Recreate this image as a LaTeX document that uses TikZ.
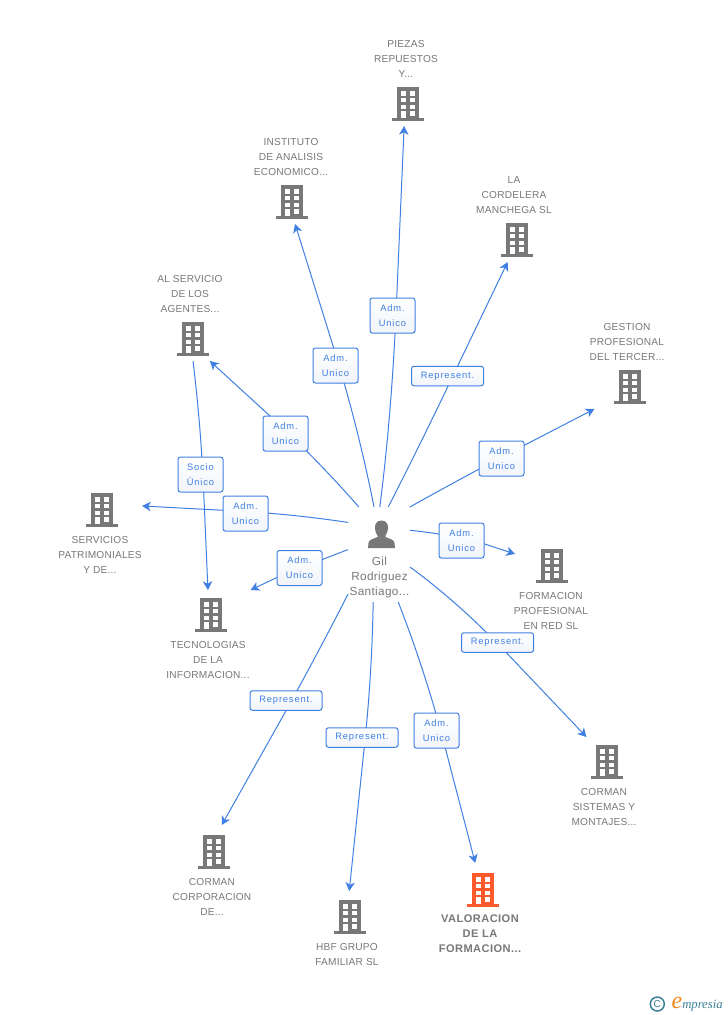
\documentclass[tikz,border=0pt]{standalone}
\usepackage{fontspec}
\setmainfont{Liberation Sans}
\newfontfamily\entfont[LetterSpace=2]{Liberation Sans}
\newfontfamily\hubfont[LetterSpace=3]{Liberation Sans}
\newfontfamily\boldentfont[LetterSpace=4]{Liberation Sans Bold}
\newfontfamily\tagfont[LetterSpace=9]{Liberation Sans}
\newfontfamily\logofont{Liberation Serif Italic}
\usetikzlibrary{arrows.meta,calc,backgrounds}
\definecolor{linkblue}{HTML}{3F80E2}
\definecolor{textgrey}{HTML}{787878}
\definecolor{iconOrange}{HTML}{FF5A2B}
\definecolor{logoteal}{HTML}{3A7F96}
\definecolor{logoorange}{HTML}{F08A24}
\definecolor{tagfade}{HTML}{F1F4F9}
\tikzset{
  bldg/.pic={
    \fill[pic actions] (-11,-17) rectangle (11,14);
    \fill[pic actions] (-16,14) rectangle (16,17);
    \foreach \ya/\yb in {-13/-8.5,-6/-2,0.7/5}{
      \fill[white] (-7,\ya) rectangle (-2,\yb);
      \fill[white] (2.3,\ya) rectangle (7.3,\yb);
    }
    \fill[white] (-7,7) rectangle (-2,14);
    \fill[white] (2.3,7) rectangle (7.3,11.5);
  },
  hubbox/.style={minimum width=62*0.75pt,minimum height=95*0.75pt,inner sep=0pt,outer sep=0pt},
  entbox/.style={minimum width=80*0.75pt,minimum height=88*0.75pt,inner sep=0pt,outer sep=0pt},
  enttext/.style={text=textgrey,align=center,inner sep=0pt,font=\fontsize{7.6pt}{11.25pt}\entfont},
  tagbox/.style={draw=linkblue,top color=white,bottom color=tagfade,line width=0.75pt,rounded corners=1.8pt,inner sep=0pt,
    text=linkblue,align=center,font=\fontsize{7pt}{11.25pt}\tagfont},
  adm/.style={tagbox,minimum width=45*0.75pt,minimum height=35*0.75pt},
  rep/.style={tagbox,minimum width=72*0.75pt,minimum height=19.5*0.75pt},
  link/.style={draw=linkblue,line width=0.75pt,-{Stealth[length=6.5pt,width=7pt,inset=1.8pt]}}
}
% #1 start, #2 bend coordinate, #3 point behind the tag, #4 end
\newcommand{\linkvia}[4]{%
  \draw[link] (#1) .. controls ($(#1)!.667!(#2)$) and ($(#3)!.667!(#2)$) .. (#3) -- (#4);}
\begin{document}
\begin{tikzpicture}[x=0.75pt,y=-0.75pt]
\begin{pgfonlayer}{background}
\path[use as bounding box,fill=white] (0,0) rectangle (728,1015);
\end{pgfonlayer}

% invisible boxes holding icon + caption (connector end points)
\node[hubbox] (hub) at (379,554.5) {};
\node[entbox] (piezas) at (408,82) {};
\node[entbox] (instituto) at (292,180) {};
\node[entbox] (cordelera) at (517,218) {};
\node[entbox] (alservicio) at (193,317) {};
\node[entbox] (gestion) at (630,365) {};
\node[entbox] (servicios) at (102,530) {};
\node[entbox] (tecnologias) at (211,634) {};
\node[entbox,minimum width=74*0.75pt] (formacion) at (552,585) {};
\node[entbox] (sistemas) at (607,781) {};
\node[entbox] (corp) at (214,869) {};
\node[entbox] (hbf) at (350,935) {};
\node[entbox] (valoracion) at (483,907) {};

% tags
\node[adm] (t1) at (392.5,315.5) {Adm.\\Unico};
\node[adm] (t2) at (335.5,365.5) {Adm.\\Unico};
\node[rep] (t3) at (447.5,376) {Represent.};
\node[adm] (t4) at (501.5,458.5) {Adm.\\Unico};
\node[adm] (t5) at (285.5,433.5) {Adm.\\Unico};
\node[adm] (t6) at (200.5,474.5) {Socio\\Único};
\node[adm] (t7) at (245.5,513.5) {Adm.\\Unico};
\node[adm] (t8) at (299.5,568) {Adm.\\Unico};
\node[adm] (t9) at (461.5,540.5) {Adm.\\Unico};
\node[rep] (t10) at (497.5,642.5) {Represent.};
\node[adm] (t11) at (436.5,730.5) {Adm.\\Unico};
\node[rep] (t12) at (362,737.5) {Represent.};
\node[rep] (t13) at (286,700.5) {Represent.};

% bend coordinates and points behind the tags
\coordinate (v1) at (392,412);   \coordinate (f1) at (396.7,298.3);
\coordinate (v2) at (358,426);   \coordinate (f2) at (333.3,346.7);
\coordinate (v3) at (424,437);   \coordinate (f3) at (457.3,366.7);
\coordinate (v4) at (467,475);   \coordinate (f4) at (524.3,445.3);
\coordinate (v5) at (315,457);   \coordinate (f5) at (270,416);
\coordinate (v6) at (201,427);   \coordinate (f6) at (203.7,491.7);
\coordinate (v7) at (285,513);   \coordinate (f7) at (223.3,510.3);
\coordinate (v8) at (313,563);   \coordinate (f8) at (277.3,577.3);
\coordinate (v9) at (448,534);   \coordinate (f9) at (484.7,544);
\coordinate (v10) at (458,602);  \coordinate (f10) at (506,652.3);
\coordinate (v11) at (426,673);  \coordinate (f11) at (445.3,748);
\coordinate (v12) at (372,675);  \coordinate (f12) at (364.3,746.7);
\coordinate (v13) at (318,653);  \coordinate (f13) at (286,710.7);

% connectors, behind the tags
\begin{pgfonlayer}{background}
\linkvia{hub.89}{v1}{f1}{piezas.265}
\linkvia{hub.96}{v2}{f2}{instituto.274}
\linkvia{hub.79}{v3}{f3}{cordelera.258}
\linkvia{hub.57}{v4}{f4}{gestion.231}
\linkvia{hub.113}{v5}{f5}{alservicio.291}
\linkvia{alservicio.270}{v6}{f6}{tecnologias.94.5}
\linkvia{hub.134}{v7}{f7}{servicios.31}
\linkvia{hub.171}{v8}{f8}{tecnologias.48}
\linkvia{hub.38}{v9}{f9}{formacion.140}
\linkvia{hub.338}{v10}{f10}{sistemas.115.5}
\linkvia{hub.292}{v11}{f11}{valoracion.100}
\linkvia{hub.263}{v12}{f12}{hbf.91}
\linkvia{hub.232}{v13}{f13}{corp.80}
\end{pgfonlayer}

% icons
\pic[fill=textgrey] at (408,104) {bldg};
\pic[fill=textgrey] at (292,202) {bldg};
\pic[fill=textgrey] at (517,240) {bldg};
\pic[fill=textgrey] at (193,339) {bldg};
\pic[fill=textgrey] at (630,387) {bldg};
\pic[fill=textgrey] at (102,510) {bldg};
\pic[fill=textgrey] at (211,615) {bldg};
\pic[fill=textgrey] at (552,566) {bldg};
\pic[fill=textgrey] at (607,762) {bldg};
\pic[fill=textgrey] at (214,852) {bldg};
\pic[fill=textgrey] at (350,917) {bldg};
\pic[fill=iconOrange] at (483,890) {bldg};

% person
\fill[textgrey] (381.5,520.5) .. controls (376,520.5) and (374.5,525) .. (375,529)
  .. controls (375.3,532) and (376.5,534) .. (377.5,535.5) -- (377.5,537)
  .. controls (373,539) and (369,539.5) .. (368.5,543) -- (368,548) -- (395,548) -- (394.5,543)
  .. controls (394,539.5) and (390,539) .. (385.5,537) -- (385.5,535.5)
  .. controls (386.5,534) and (387.7,532) .. (388,529)
  .. controls (388.5,525) and (387,520.5) .. (381.5,520.5) -- cycle;

% captions
\node[enttext,font=\fontsize{8.8pt}{11.25pt}\hubfont] (lhub) at (379.5,577) {Gil\\Rodriguez\\Santiago...};
\node[enttext] (l1) at (406,59) {PIEZAS\\REPUESTOS\\Y...};
\node[enttext] (l2) at (291,157) {INSTITUTO\\DE ANALISIS\\ECONOMICO...};
\node[enttext] (l3) at (514,195) {LA\\CORDELERA\\MANCHEGA SL};
\node[enttext] (l4) at (190,294) {AL SERVICIO\\DE LOS\\AGENTES...};
\node[enttext] (l5) at (627,342) {GESTION\\PROFESIONAL\\DEL TERCER...};
\node[enttext] (l6) at (100,555) {SERVICIOS\\PATRIMONIALES\\Y DE...};
\node[enttext] (l7) at (208,660) {TECNOLOGIAS\\DE LA\\INFORMACION...};
\node[enttext] (l8) at (551,611) {FORMACION\\PROFESIONAL\\EN RED SL};
\node[enttext] (l9) at (604,807) {CORMAN\\SISTEMAS Y\\MONTAJES...};
\node[enttext] (l10) at (212,897) {CORMAN\\CORPORACION\\DE...};
\node[enttext] (l11) at (347,954.5) {HBF GRUPO\\FAMILIAR SL};
\node[enttext,font=\fontsize{8.3pt}{11.25pt}\boldentfont] (l12) at (480,934) {VALORACION\\DE LA\\FORMACION...};

% logo
\node[circle,draw=logoteal,line width=1.1pt,minimum size=10.5pt,inner sep=0pt,text=logoteal,
  font=\fontsize{7.5pt}{7.5pt}\selectfont] (copy) at (657.3,1004) {C};
\node[inner sep=0pt,anchor=base,text=logoorange,font=\fontsize{18pt}{18pt}\logofont] (logoe) at (677,1008) {e};
\node[inner sep=0pt,anchor=base west,text=logoteal,font=\fontsize{9.5pt}{9.5pt}\logofont] (logot) at (682,1008) {mpresia};
\end{tikzpicture}
\end{document}
